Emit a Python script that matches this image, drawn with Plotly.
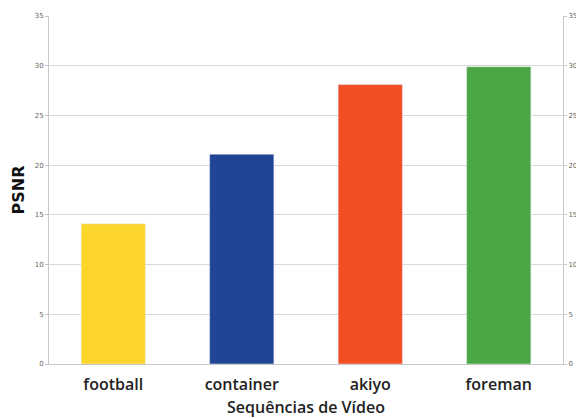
import plotly.graph_objects as go

categories = ["football", "container", "akiyo", "foreman"]
psnr = [14.1, 21.1, 28.1, 29.9]
colors = ["#FCD52B", "#1F4594", "#F14E24", "#4BA746"]
yticks = [0, 5, 10, 15, 20, 25, 30, 35]

fig = go.Figure()
fig.add_trace(go.Bar(x=categories, y=psnr, marker=dict(color=colors, line=dict(width=0)),
                     showlegend=False, hoverinfo="x+y"))
fig.add_trace(go.Bar(x=categories, y=psnr, yaxis="y2", marker=dict(color="rgba(0,0,0,0)"),
                     showlegend=False, hoverinfo="skip"))

tickfont = dict(family="DejaVu Sans", size=7, color="#666666")
fig.update_layout(
    width=576, height=418,
    margin=dict(l=49, r=13, t=16, b=54),
    paper_bgcolor="white", plot_bgcolor="white",
    bargap=0.5, barmode="overlay",
    xaxis=dict(
        showgrid=False, showline=True, linecolor="#c8c8c8", linewidth=1,
        ticks="", ticklabelstandoff=6, automargin=False,
        tickfont=dict(family="Open Sans", size=16, color="#222222", weight=600),
        title=dict(text="Sequências de Vídeo", font=dict(family="Open Sans", size=16, color="#222222", weight=600), standoff=11),
    ),
    yaxis=dict(
        range=[0, 35], tickvals=yticks, showgrid=True, gridcolor="#d9d9d9", gridwidth=1,
        showline=True, linecolor="#c8c8c8", linewidth=1, automargin=False,
        ticks="outside", ticklen=3, tickcolor="#c8c8c8", tickfont=tickfont,
        zeroline=False,
        title=dict(text="<b>PSNR</b>", font=dict(family="DejaVu Sans", size=16, color="#111111"), standoff=6),
    ),
    yaxis2=dict(
        range=[0, 35], tickvals=yticks, overlaying="y", side="right", showgrid=False,
        showline=True, linecolor="#c8c8c8", linewidth=1, automargin=False,
        ticks="outside", ticklen=3, tickcolor="#c8c8c8", tickfont=tickfont, zeroline=False,
    ),
)
fig.write_html("out.html")
